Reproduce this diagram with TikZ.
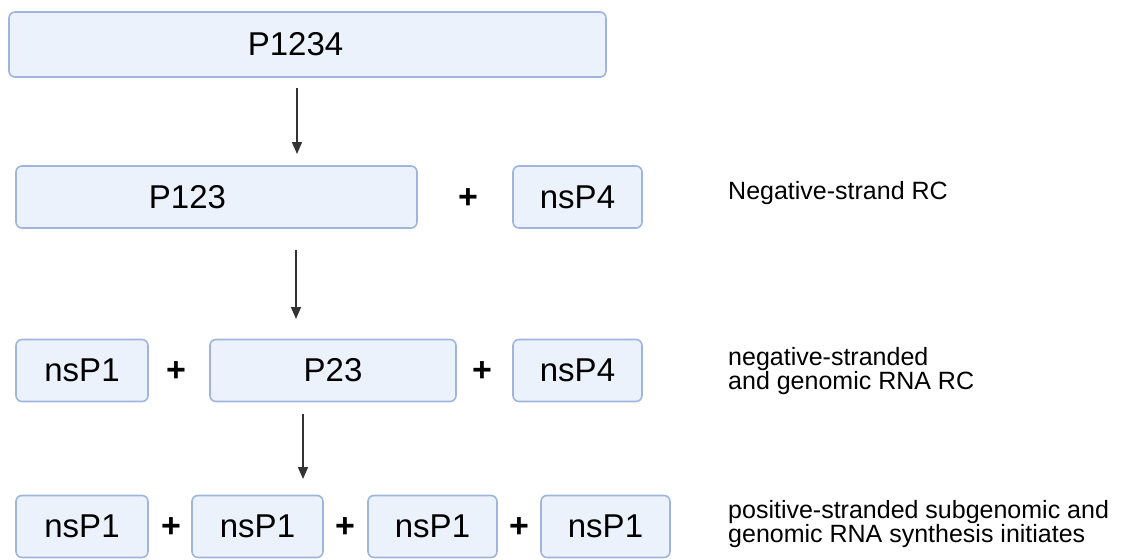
\documentclass[tikz,border=0pt]{standalone}
\usepackage{fontspec}
\setmainfont{Liberation Sans}
\usetikzlibrary{arrows.meta,positioning}
\definecolor{boxfill}{HTML}{EBF2FC}
\definecolor{boxline}{HTML}{9FB5DD}
\definecolor{arrowgray}{HTML}{333333}

\begin{document}
\begin{tikzpicture}[x=1pt,y=-1pt,
    prot/.style={draw=boxline,fill=boxfill,line width=1.6pt,rounded corners=6pt,
      minimum height=62pt,inner sep=0pt,font=\fontsize{33}{36}\selectfont},
    plus/.style={inner sep=0pt,font=\bfseries\fontsize{34}{36}\selectfont},
    note/.style={anchor=west,align=left,inner sep=0pt,font=\fontsize{25}{24}\selectfont},
    flow/.style={-{Triangle[length=12pt,width=10pt]},line width=1.5pt,draw=arrowgray}]

    \useasboundingbox (0,0) rectangle (1123,559);

    % precursor
    \node[prot, minimum width=597pt, minimum height=65pt] (P1234) at (307.5,44.5) {\hspace*{-24pt}P1234};

    % negative-strand replication complex
    \node[prot, minimum width=401pt] (P123)  at (216.5,197) {\hspace*{-58pt}P123};
    \node[plus]                      (plusA) at (468,199)   {+};
    \node[prot, minimum width=129pt] (nsP4a) at (577.5,197) {nsP4};
    \node[note] (noteA) at (728,193) {Negative-strand RC};

    % intermediate complex
    \node[prot, minimum width=132pt] (nsP1a) at (82,370.5)    {nsP1};
    \node[plus]                      (plusB) at (176,372)     {+};
    \node[prot, minimum width=246pt] (P23)   at (333,370.5)   {P23};
    \node[plus]                      (plusC) at (482,372)     {+};
    \node[prot, minimum width=129pt] (nsP4b) at (577.5,370.5) {nsP4};
    \node[note] (noteB) at (728,371) {negative-stranded\\and genomic RNA RC};

    % mature complex
    \node[prot, minimum width=132pt] (nsP1b) at (82,526.5)    {nsP1};
    \node[plus]                      (plusD) at (171,528)     {+};
    \node[prot, minimum width=131pt] (nsP1c) at (257.5,526.5) {nsP1};
    \node[plus]                      (plusE) at (345,528)     {+};
    \node[prot, minimum width=129pt] (nsP1d) at (432.5,526.5) {nsP1};
    \node[plus]                      (plusF) at (519,528)     {+};
    \node[prot, minimum width=129pt] (nsP1e) at (605.5,526.5) {nsP1};
    \node[note] (noteC) at (728,524) {positive-stranded subgenomic and\\genomic RNA synthesis initiates};

    % cleavage steps
    \coordinate (s1) at (297,88);  \coordinate (e1) at (297,154);
    \coordinate (s2) at (296,250); \coordinate (e2) at (296,319);
    \coordinate (s3) at (303,414); \coordinate (e3) at (303,479);
    \draw[flow] (s1) -- (e1);
    \draw[flow] (s2) -- (e2);
    \draw[flow] (s3) -- (e3);
\end{tikzpicture}
\end{document}
